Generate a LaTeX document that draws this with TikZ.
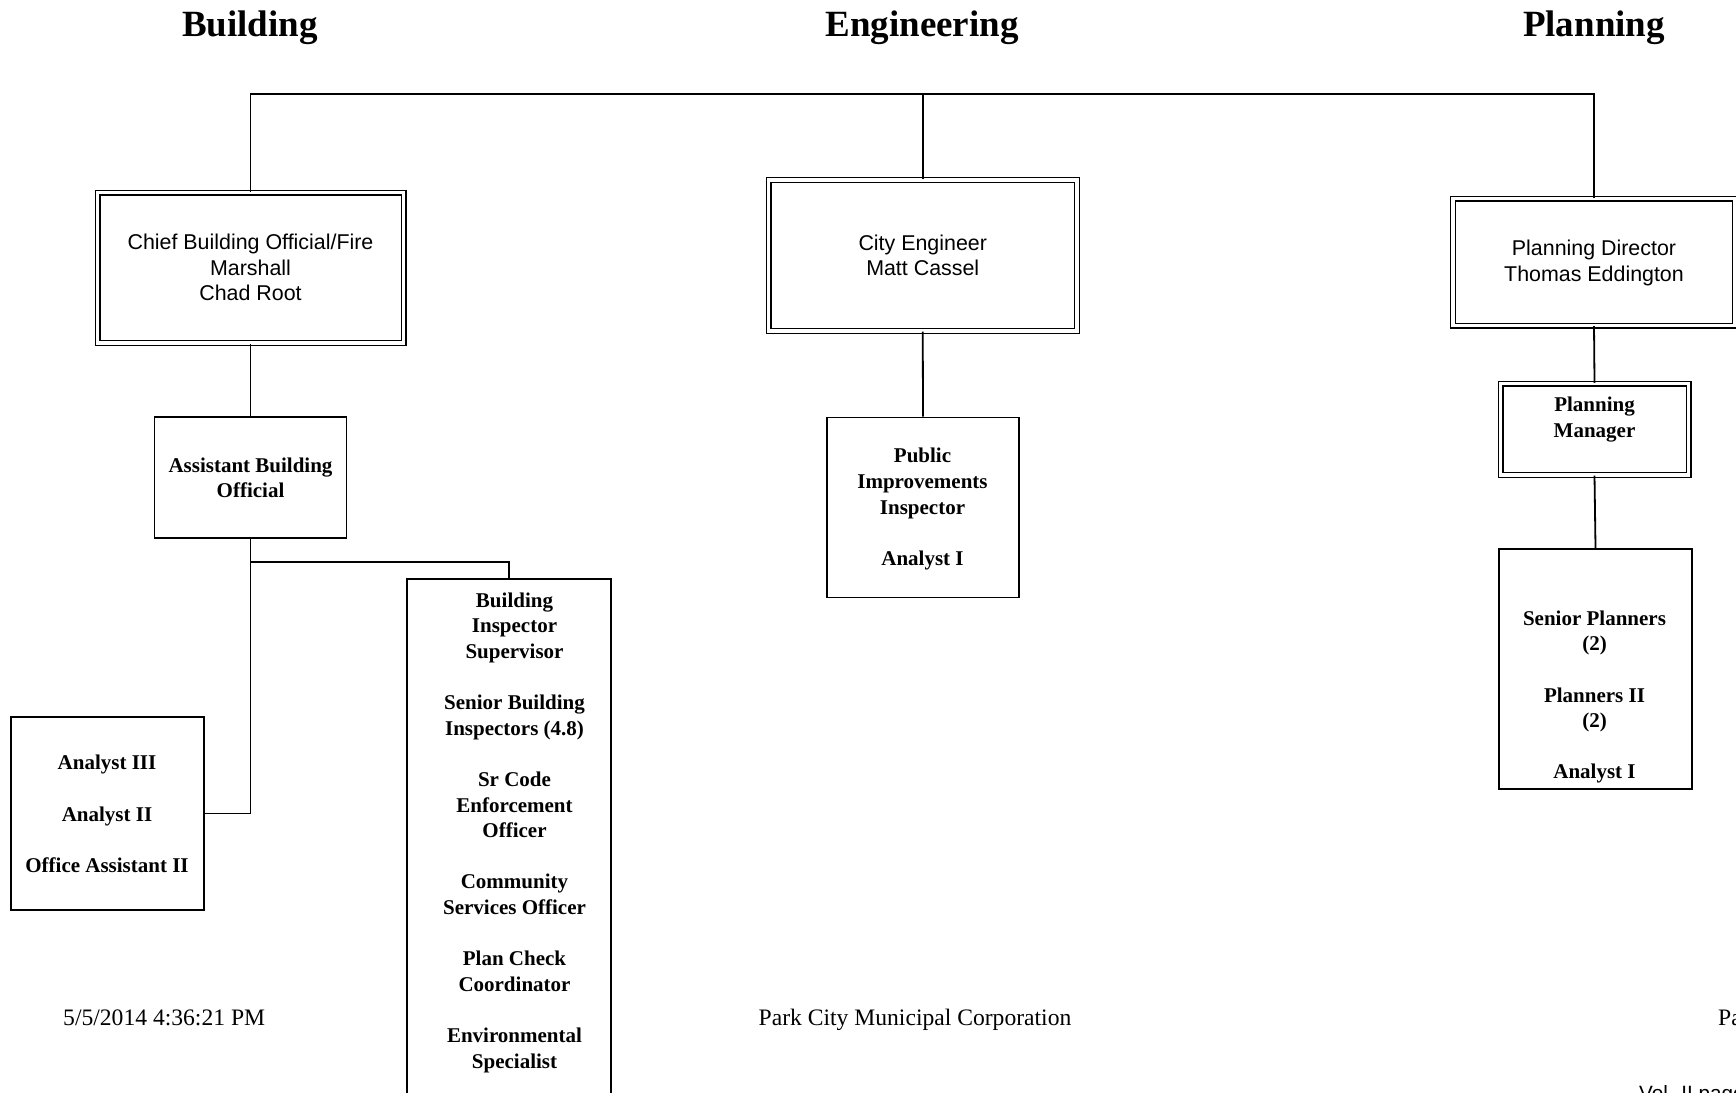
\documentclass[tikz,border=0pt]{standalone}
\usepackage{fontspec}
\setmainfont{Liberation Serif}
\newfontfamily\arialfam{Liberation Sans}
\begin{document}
\begin{tikzpicture}[x=1pt,y=-1pt,
  sbox/.style={draw, line width=1.8pt, inner sep=0pt},
  dbox/.style={draw, double, double distance=3.1pt, line width=1.45pt, inner sep=0pt},
  btxt/.style={font=\bfseries\fontsize{21}{25.6}\selectfont, align=center, inner sep=0pt},
  stxt/.style={font=\arialfam\fontsize{21.4}{25.4}\selectfont, align=center, inner sep=0pt},
  title/.style={font=\bfseries\fontsize{37}{40}\selectfont, inner sep=0pt, anchor=base},
  foot/.style={font=\fontsize{23.6}{26}\selectfont, inner sep=0pt},
  conn/.style={line width=1.8pt}]
\useasboundingbox (0,0) rectangle (1736,1092);
\clip (0,0) rectangle (1736,1092);

% titles
\node[title] (tB) at (250,36) {Building};
\node[title] (tE) at (922,36) {Engineering};
\node[title] (tP) at (1594,36) {Planning};

% Building
\node[dbox, minimum width=306, minimum height=150.5] (chief) at (250.5,267.75) {};
\node[stxt] (chiefT) at (250.5,267.5) {Chief Building Official/Fire\\Marshall\\Chad Root};
\node[sbox, minimum width=192, minimum height=121] (abo) at (250.5,477.5) {};
\node[btxt] (aboT) at (250.5,478) {Assistant Building\\Official};
\node[sbox, minimum width=193, minimum height=193] (analyst) at (107.5,813.5) {};
\node[btxt] (analystT) at (107,814) {Analyst III\\[25.6pt]Analyst II\\[25.6pt]Office Assistant II};
\node[sbox, minimum width=204, minimum height=551] (bis) at (509,854.5) {};
\node[btxt, anchor=north] (bisT) at (514.5,592.5) {Building\\Inspector\\Supervisor\\[25.6pt]Senior Building\\Inspectors (4.8)\\[25.6pt]Sr Code\\Enforcement\\Officer\\[25.6pt]Community\\Services Officer\\[25.6pt]Plan Check\\Coordinator\\[25.6pt]Environmental\\Specialist};

% Engineering
\node[dbox, minimum width=308.5, minimum height=151] (cityeng) at (922.75,255.5) {};
\node[stxt] (cityengT) at (922.75,255.5) {City Engineer\\Matt Cassel};
\node[sbox, minimum width=192, minimum height=180] (pub) at (923,507.5) {};
\node[btxt] (pubT) at (922.5,509) {Public\\Improvements\\Inspector\\[25.6pt]Analyst I};

% Planning
\node[dbox, minimum width=282, minimum height=127] (pdir) at (1594,262) {};
\node[stxt] (pdirT) at (1594,263) {Planning Director\\Thomas Eddington};
\node[dbox, minimum width=188, minimum height=91.5] (pman) at (1594.5,429.25) {};
\node[btxt] (pmanT) at (1594.5,419.5) {Planning\\Manager};
\node[sbox, minimum width=193, minimum height=240] (splan) at (1595.5,669) {};
\node[btxt] (splanT) at (1594.5,697) {Senior Planners\\(2)\\[25.6pt]Planners II\\(2)\\[25.6pt]Analyst I};

% connectors
\coordinate (bar) at (922,94);
\coordinate (split) at (250.5,562);
\draw[conn] (chief.north) -- (chief.north |- bar) -- (pdir.north |- bar) -- (pdir.north);
\draw[conn] (cityeng.north) -- (cityeng.north |- bar);
\draw[conn] (cityeng.south) -- (pub.north);
\draw[conn] (chief.south) -- (abo.north);
\draw[conn] (abo.south) |- (analyst.east);
\draw[conn] (split) -| (bis.north);
\draw[conn] (pdir.south) -- (pman.north);
\draw[conn] (pman.south) -- (splan.north);

% footer
\node[foot, anchor=base west] (fdate) at (63,1025.5) {5/5/2014 4:36:21 PM};
\node[foot, anchor=base] (forg) at (915,1025.5) {Park City Municipal Corporation};
\node[foot, anchor=base west] (fpage) at (1718,1025.5) {Page};
\node[font=\arialfam\fontsize{20.7}{24}\selectfont, inner sep=0pt, anchor=base west] (fvol) at (1639,1100) {Vol. II page};
\end{tikzpicture}
\end{document}
